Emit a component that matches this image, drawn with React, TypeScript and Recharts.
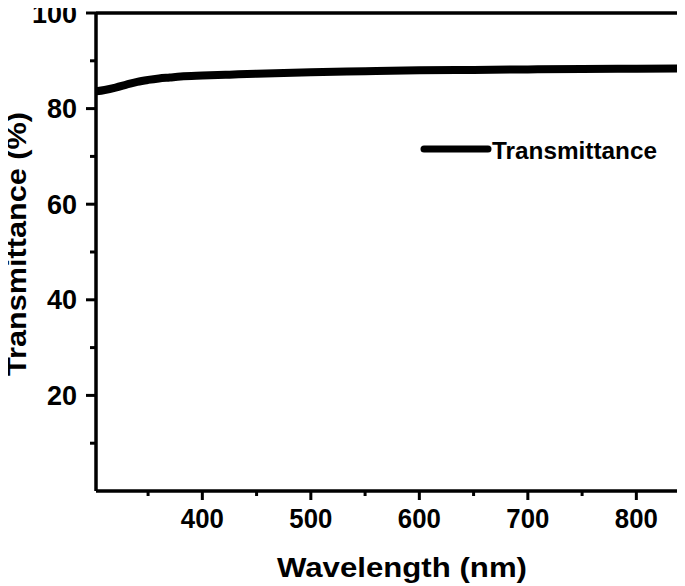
import React from "react";
import { LineChart, Line, XAxis, YAxis, ReferenceLine } from "recharts";

const wavelengths = [302, 310, 320, 330, 340, 350, 360, 370, 380, 400, 425, 450, 500, 550, 600, 650, 700, 750, 800, 843];
const transmittance = [83.6, 83.9, 84.4, 85.0, 85.6, 86.0, 86.3, 86.5, 86.7, 86.9, 87.1, 87.3, 87.6, 87.8, 88.0, 88.1, 88.2, 88.3, 88.35, 88.4];
const xTicks = [350, 400, 450, 500, 550, 600, 650, 700, 750, 800];
const xLabels = [400, 500, 600, 700, 800];
const yTicks = [10, 20, 30, 40, 50, 60, 70, 80, 90, 100];
const yLabels = [20, 40, 60, 80, 100];
const xDomain = [302, 843];
const yDomain = [0, 100];
const seriesName = "Transmittance";
const xTitle = "Wavelength (nm)";
const yTitle = "Transmittance (%)";

const data = wavelengths.map((w, i) => ({ w, t: transmittance[i] }));

const FONT = "'Liberation Sans', Arial, Helvetica, sans-serif";

const XTick = (props: any) => {
  const { x, y, payload } = props;
  const v = payload.value;
  const major = xLabels.includes(v);
  return (
    <g>
      <line x1={x} x2={x} y1={y} y2={y + (major ? 9 : 5)} stroke="#000" strokeWidth={3} />
      {major && (
        <text x={x} y={y + 37} textAnchor="middle" fontFamily={FONT} fontWeight="bold" fontSize={27} fill="#000" textLength={43} lengthAdjust="spacingAndGlyphs">
          {v}
        </text>
      )}
    </g>
  );
};

const YTick = (props: any) => {
  const { x, y, payload } = props;
  const v = payload.value;
  const major = yLabels.includes(v);
  return (
    <g>
      <line x1={x} x2={x - (major ? 10 : 6)} y1={y} y2={y} stroke="#000" strokeWidth={3} />
      {major && (
        <text x={x - 19} y={y + 9.5} textAnchor="end" fontFamily={FONT} fontWeight="bold" fontSize={27} fill="#000">
          {v}
        </text>
      )}
    </g>
  );
};

export default function App() {
  return (
    <div style={{ margin: "-8px 0 0 -8px", width: 685, height: 586 }}>
      <LineChart width={685} height={586} data={data} margin={{ top: 13, right: 2, bottom: 0, left: 0 }} style={{ overflow: "visible" }}>
        <XAxis
          dataKey="w"
          type="number"
          domain={xDomain}
          ticks={xTicks}
          tick={<XTick />}
          tickLine={false}
          tickSize={0}
          tickMargin={0}
          height={95}
          axisLine={{ stroke: "#000", strokeWidth: 3.5 }}
          allowDataOverflow
          interval={0}
        />
        <YAxis
          type="number"
          domain={yDomain}
          ticks={yTicks}
          tick={<YTick />}
          tickLine={false}
          tickSize={0}
          tickMargin={0}
          width={96}
          axisLine={{ stroke: "#000", strokeWidth: 3.5 }}
          interval={0}
        />
        <ReferenceLine y={yDomain[1]} stroke="#000" strokeWidth={3.5} ifOverflow="visible" />
        <ReferenceLine x={xDomain[1]} stroke="#000" strokeWidth={3.5} ifOverflow="visible" />
        <Line type="monotone" dataKey="t" name={seriesName} stroke="#000" strokeWidth={8} dot={false} isAnimationActive={false} />
        <line x1={424} x2={488} y1={149} y2={149} stroke="#000" strokeWidth={7} strokeLinecap="round" />
        <text x={492} y={158.5} fontFamily={FONT} fontWeight="bold" fontSize={24} fill="#000" textLength={165} lengthAdjust="spacingAndGlyphs">
          {seriesName}
        </text>
        <g transform="translate(26 244) rotate(-90)">
          <text x={0} y={0} textAnchor="middle" fontFamily={FONT} fontWeight="bold" fontSize={27} fill="#000" textLength={264} lengthAdjust="spacingAndGlyphs">
            {yTitle}
          </text>
        </g>
        <text x={402} y={577} textAnchor="middle" fontFamily={FONT} fontWeight="bold" fontSize={28} fill="#000" textLength={250} lengthAdjust="spacingAndGlyphs">
          {xTitle}
        </text>
      </LineChart>
    </div>
  );
}
